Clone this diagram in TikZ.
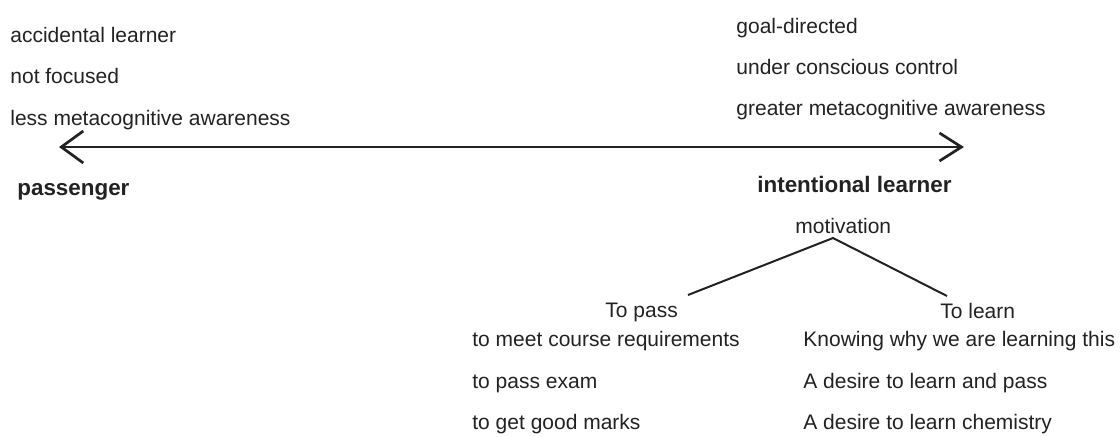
\documentclass[tikz,border=0pt]{standalone}
\usepackage{fontspec}
\setmainfont{Liberation Sans}
\usetikzlibrary{arrows.meta,positioning}
\definecolor{InkGray}{RGB}{34, 34, 34}

\begin{document}
\begin{tikzpicture}[
    x=0.5pt, y=-0.5pt,
    txt/.style={anchor=base west, inner sep=0pt, font=\fontsize{10.5}{12}\selectfont, text=InkGray},
    head/.style={txt, font=\fontsize{11.2}{13}\selectfont\bfseries},
    scale line/.style={thick, InkGray, line width=1.35pt, {Straight Barb[length=11pt, width=16pt, line width=1.35pt]}-{Straight Barb[length=11pt, width=14pt, line width=1.35pt]}},
    branch/.style={InkGray, line width=1pt}
  ]
    \useasboundingbox (0,0) rectangle (1120,436);

    % left end of the scale
    \node[txt] (acc) at (10,42) {accidental learner};
    \node[txt] (notf) at (10,83) {not focused};
    \node[txt] (lessm) at (10,125) {less metacognitive awareness};
    \node[head] (pass) at (17,195) {passenger};

    % right end of the scale
    \node[txt] (goal) at (736,33) {goal-directed};
    \node[txt] (consc) at (736,74) {under conscious control};
    \node[txt] (greater) at (736,115) {greater metacognitive awareness};
    \node[head] (intent) at (757,192) {intentional learner};

    \coordinate (scaleL) at (59,147);
    \coordinate (scaleR) at (964,147);
    \draw[scale line] (scaleL) -- (scaleR);

    % motivation tree
    \node[txt] (motiv) at (795,233) {motivation};
    \node[txt] (topass) at (605,317) {To pass};
    \node[txt] (tolearn) at (940,318) {To learn};

    \coordinate (apex) at (833,238);
    \coordinate (passEnd) at (688,295);
    \coordinate (learnEnd) at (947,296);
    \draw[branch] (passEnd) -- (apex) -- (learnEnd);

    \node[txt] (meet) at (472,346) {to meet course requirements};
    \node[txt] (exam) at (472,388) {to pass exam};
    \node[txt] (marks) at (472,429) {to get good marks};

    \node[txt] (why) at (803,346) {Knowing why we are learning this};
    \node[txt] (both) at (803,388) {A desire to learn and pass};
    \node[txt] (chem) at (803,429) {A desire to learn chemistry};
  \end{tikzpicture}
\end{document}
